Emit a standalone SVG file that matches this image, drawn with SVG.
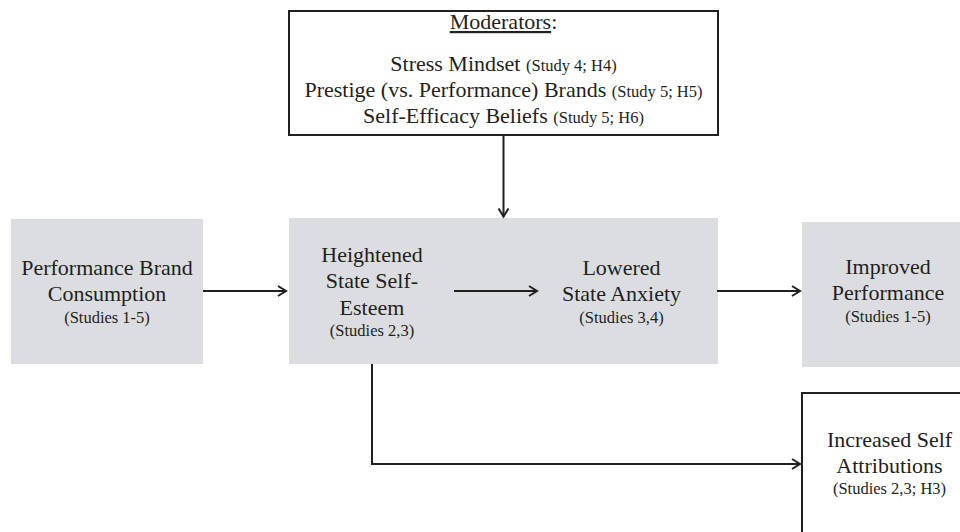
<svg xmlns="http://www.w3.org/2000/svg" width="960" height="532" viewBox="0 0 960 532">
<defs>
<style>
.box{fill:#dcdde0;stroke:none}
.obox{fill:#ffffff;stroke:#231f20;stroke-width:2}
text{font-family:"Liberation Serif","Times New Roman",serif;fill:#231f20;text-anchor:middle}
.m{font-size:22px}
.s{font-size:16.5px}
.conn{fill:none;stroke:#231f20;stroke-width:2}
</style>
<marker id="ah" markerUnits="userSpaceOnUse" markerWidth="12" markerHeight="14" refX="9" refY="6" orient="auto" viewBox="0 0 12 12">
<path d="M1,1 L9,6 L1,11" fill="none" stroke="#231f20" stroke-width="2"/>
</marker>
</defs>
<rect width="960" height="532" fill="#ffffff"/>
<g id="moderators">
<rect class="obox" x="289" y="11" width="429" height="124"/>
<text x="503.5" y="29" class="m"><tspan text-decoration="underline">Moderators</tspan>:</text>
<text x="503.5" y="71" class="m">Stress Mindset <tspan class="s">(Study 4; H4)</tspan></text>
<text x="503.5" y="97" class="m">Prestige (vs. Performance) Brands <tspan class="s">(Study 5; H5)</tspan></text>
<text x="503.5" y="122.5" class="m">Self-Efficacy Beliefs <tspan class="s">(Study 5; H6)</tspan></text>
</g>
<g id="performance-brand">
<rect class="box" x="11" y="219" width="192" height="145"/>
<text x="107" y="275" class="m">Performance Brand</text>
<text x="107" y="301" class="m">Consumption</text>
<text x="107" y="323" class="s">(Studies 1-5)</text>
</g>
<g id="mediators">
<rect class="box" x="289" y="218" width="429" height="146"/>
</g>
<g id="self-esteem">
<text x="372" y="262" class="m">Heightened</text>
<text x="372" y="288" class="m">State Self-</text>
<text x="372" y="315" class="m">Esteem</text>
<text x="372" y="336" class="s">(Studies 2,3)</text>
</g>
<g id="anxiety">
<text x="621.5" y="275" class="m">Lowered</text>
<text x="621.5" y="301" class="m">State Anxiety</text>
<text x="621.5" y="323" class="s">(Studies 3,4)</text>
</g>
<g id="performance">
<rect class="box" x="802" y="222" width="170" height="145"/>
<text x="888" y="274" class="m">Improved</text>
<text x="888" y="300" class="m">Performance</text>
<text x="888" y="322" class="s">(Studies 1-5)</text>
</g>
<g id="attributions">
<rect class="obox" x="802" y="393" width="170" height="150"/>
<text x="889.5" y="447" class="m">Increased Self</text>
<text x="889.5" y="473" class="m">Attributions</text>
<text x="889.5" y="494" class="s">(Studies 2,3; H3)</text>
</g>
<g id="connectors">
<path class="conn" d="M503.5,135 L503.5,216.5" marker-end="url(#ah)"/>
<path class="conn" d="M203,291 L286,291" marker-end="url(#ah)"/>
<path class="conn" d="M454,291 L537,291" marker-end="url(#ah)"/>
<path class="conn" d="M717,291 L800,291" marker-end="url(#ah)"/>
<path class="conn" d="M372,364 L372,464 L800,464" marker-end="url(#ah)"/>
</g>
</svg>
